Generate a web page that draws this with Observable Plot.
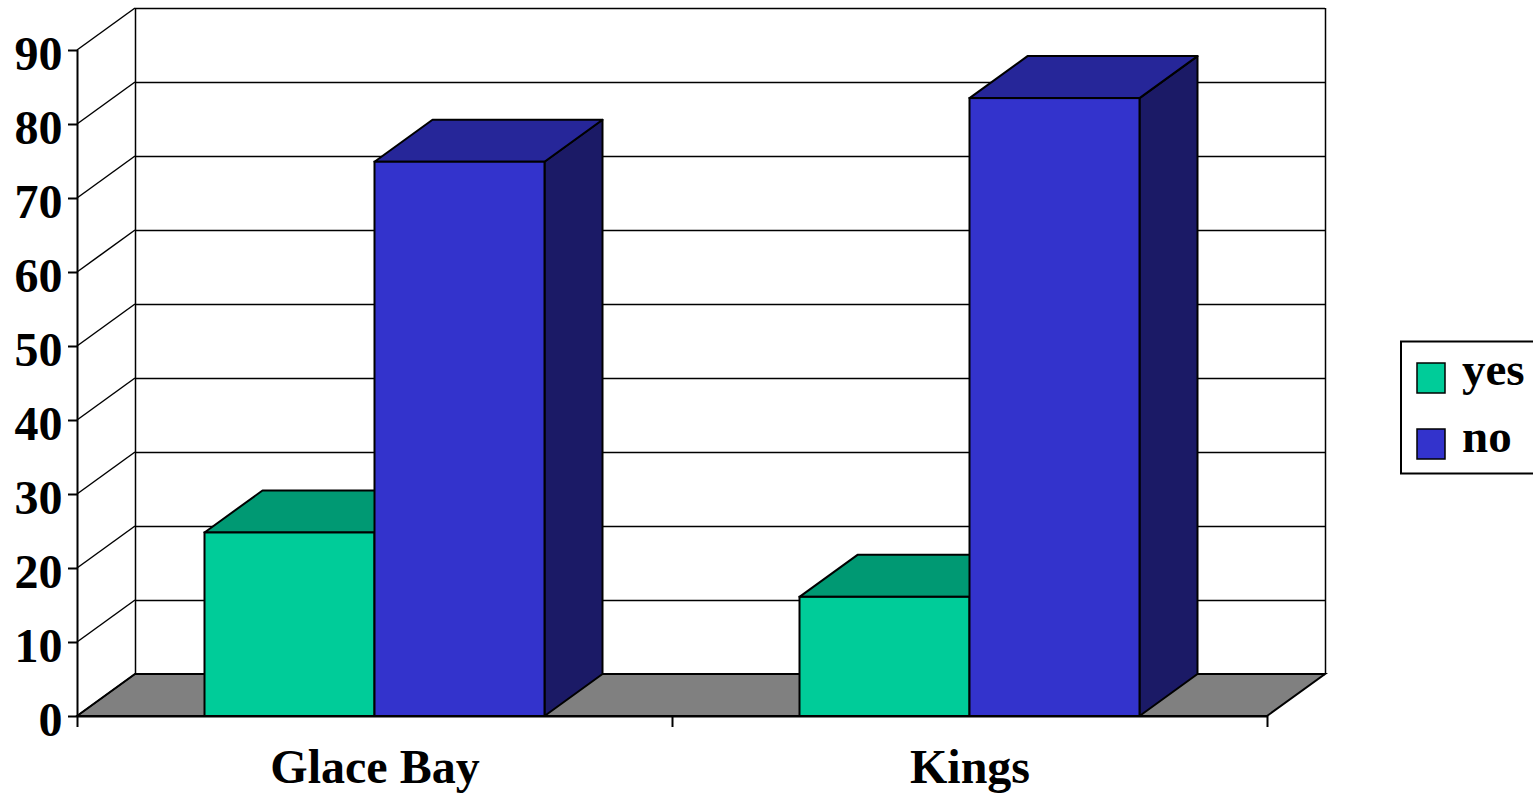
<!DOCTYPE html>
<html>
<head>
<meta charset="utf-8">
<script src="https://cdn.jsdelivr.net/npm/d3@7"></script>
<script src="https://cdn.jsdelivr.net/npm/@observablehq/plot@0.6"></script>
<style>
  html, body { margin: 0; padding: 0; background: #fff; overflow: hidden; }
  #chart { position: relative; width: 1533px; height: 795px; }
</style>
</head>
<body>
<div id="chart"></div>
<script>
// Survey answers per area (percent)
const categories = ["Glace Bay", "Kings"];
const seriesNames = ["yes", "no"];
const yesValues = [24.8, 16.1];
const noValues = [74.9, 83.5];
const yTicks = [0, 10, 20, 30, 40, 50, 60, 70, 80, 90];

// Face colours per series: front, top, side
const frontColors = ["#00CC99", "#3333CC"];
const topColors = ["#009973", "#262699"];
const sideColors = ["#00664D", "#1B1A66"];

// 3D depth of the chart box, in pixels (back plane offset)
const DX = 58, DY = -42;
// Each category spans one unit on x; bars take 1/3.5 of it (150% gap)
const BAR = 1 / 3.5;

const seriesValues = [yesValues, noValues];
const rows = categories.flatMap((category, i) =>
  seriesNames.map((series, j) => ({
    category,
    series,
    value: seriesValues[j][i],
    x1: i + 0.5 + (j - 1) * BAR,
    x2: i + 0.5 + j * BAR,
    front: frontColors[j],
    top: topColors[j],
    side: sideColors[j]
  }))
);

const font = "'Liberation Serif', 'Times New Roman', serif";

// Floor and left side wall diagonals
function walls(index, {x, y}) {
  const g = d3.create("svg:g").attr("stroke", "black").attr("fill", "none");
  const x0 = x(0), x1 = x(categories.length), y0 = y(0);
  g.append("path")
    .attr("fill", "#808080")
    .attr("stroke-width", 2)
    .attr("d", `M${x0},${y0}L${x1},${y0}L${x1 + DX},${y0 + DY}L${x0 + DX},${y0 + DY}Z`);
  for (const t of yTicks) {
    g.append("path")
      .attr("stroke-width", 1.5)
      .attr("d", `M${x0},${y(t)}L${x0 + DX},${y(t) + DY}`);
  }
  return g.node();
}

// Top and right faces of each column
function extrusions(index, {x, y}) {
  const g = d3.create("svg:g")
    .attr("stroke", "black")
    .attr("stroke-width", 2)
    .attr("stroke-linejoin", "round");
  const y0 = y(0);
  for (const d of rows) {
    const xa = x(d.x1), xb = x(d.x2), yt = y(d.value);
    g.append("path").attr("fill", d.side)
      .attr("d", `M${xb},${y0}L${xb + DX},${y0 + DY}L${xb + DX},${yt + DY}L${xb},${yt}Z`);
    g.append("path").attr("fill", d.top)
      .attr("d", `M${xa},${yt}L${xb},${yt}L${xb + DX},${yt + DY}L${xa + DX},${yt + DY}Z`);
  }
  return g.node();
}

const chart = Plot.plot({
  width: 1533,
  height: 795,
  marginLeft: 77,
  marginRight: 266,
  marginTop: 50,
  marginBottom: 79,
  style: {fontFamily: font, fontWeight: "bold", fontSize: "48px", color: "black", background: "white"},
  x: {type: "linear", domain: [0, categories.length], label: null},
  y: {domain: [0, 90], label: null},
  marks: [
    // back wall gridlines and edges
    Plot.ruleY(yTicks, {dx: DX, dy: DY, stroke: "black", strokeWidth: 1.5}),
    Plot.ruleX([0, categories.length], {y1: 0, y2: 90, dx: DX, dy: DY, stroke: "black", strokeWidth: 1.5}),
    walls,
    extrusions,
    // front faces of the columns
    Plot.rect(rows, {x1: "x1", x2: "x2", y1: 0, y2: "value", fill: "front", stroke: "black", strokeWidth: 2}),
    // front axes
    Plot.ruleX([0], {y1: 0, y2: 90, stroke: "black", strokeWidth: 2}),
    Plot.ruleY([0], {stroke: "black", strokeWidth: 2}),
    Plot.axisY({ticks: yTicks, tickSize: 9, tickFormat: () => "", strokeWidth: 2, label: null}),
    Plot.text(yTicks, {x: 0, y: d => d, text: d => String(d), textAnchor: "end", dx: -15, dy: 4,
      fontSize: 48, fontWeight: "bold", fontFamily: font, fill: "black"}),
    Plot.axisX({ticks: d3.range(categories.length + 1), tickSize: 11, tickFormat: () => "", strokeWidth: 2, label: null}),
    Plot.axisX({ticks: categories.map((c, i) => i + 0.5), tickSize: 0, tickPadding: 32,
      tickFormat: d => categories[Math.floor(d)], fontSize: 48, fontWeight: "bold", fontFamily: font, label: null})
  ]
});

const container = document.getElementById("chart");
container.appendChild(chart);

// Legend box on the right
const legend = d3.create("svg")
  .attr("width", 133)
  .attr("height", 136)
  .style("position", "absolute")
  .style("left", "1400px")
  .style("top", "340px");
legend.append("rect")
  .attr("x", 1).attr("y", 1.5).attr("width", 160).attr("height", 132)
  .attr("fill", "white").attr("stroke", "black").attr("stroke-width", 2);
seriesNames.forEach((name, j) => {
  legend.append("rect")
    .attr("x", 17).attr("y", 23 + j * 66).attr("width", 28).attr("height", 30)
    .attr("fill", frontColors[j]).attr("stroke", "black").attr("stroke-width", 1.5);
  legend.append("text")
    .attr("x", 62).attr("y", 45 + j * 67)
    .attr("font-family", font).attr("font-weight", "bold").attr("font-size", 47)
    .attr("fill", "black")
    .text(name);
});
container.appendChild(legend.node());
</script>
</body>
</html>
